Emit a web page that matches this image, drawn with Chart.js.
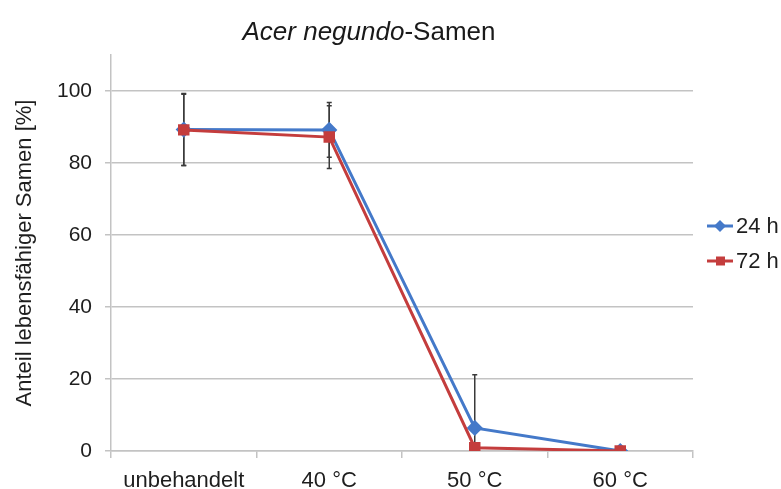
<!DOCTYPE html>
<html>
<head>
<meta charset="utf-8">
<script src="https://cdn.jsdelivr.net/npm/chart.js@4.4.0/dist/chart.umd.min.js"></script>
<style>
  html, body { margin: 0; padding: 0; background: #fff; }
  #wrap { position: relative; width: 781px; height: 489px; }
  #title {
    position: absolute; left: 0; top: 16px; width: 738px;
    text-align: center; font: 26px "Liberation Sans", Arial, sans-serif; color: #1a1a1a;
  }
</style>
</head>
<body>
<div id="wrap">
  <canvas id="chart" width="781" height="489"></canvas>
  <div id="title"><i>Acer negundo</i>-Samen</div>
</div>
<script>
// Data
const categories = ['unbehandelt', '40 °C', '50 °C', '60 °C'];
const seriesNames = ['24 h', '72 h'];
const values24h = [89.3, 89.2, 6.4, 0];
const values72h = [89.2, 87.2, 0.9, 0];
const err24h = [10.0, 7.6, 14.8, 0];
const err72h = [9.9, 8.7, 0.6, 0];
const yMax = 110;
const yStep = 20;

const blue = '#4479c9';
const red = '#c43d3d';
const gridColor = '#c3c3c3';
const textColor = '#1e1e1e';
const fontFamily = '"Liberation Sans", Arial, sans-serif';

// error bars drawn behind the lines
const errorBars = {
  id: 'errorBars',
  beforeDatasetsDraw(chart) {
    const { ctx, chartArea, scales: { x, y } } = chart;
    ctx.save();
    ctx.beginPath();
    ctx.rect(chartArea.left, chartArea.top, chartArea.width, chartArea.height);
    ctx.clip();
    ctx.strokeStyle = '#3a3a3a';
    ctx.lineWidth = 1.5;
    [[values24h, err24h], [values72h, err72h]].forEach(([vals, errs]) => {
      vals.forEach((v, i) => {
        if (!errs[i]) return;
        const px = x.getPixelForValue(i);
        const top = y.getPixelForValue(v + errs[i]);
        const bot = y.getPixelForValue(Math.max(0, v - errs[i]));
        ctx.beginPath();
        ctx.moveTo(px, top); ctx.lineTo(px, bot);
        ctx.moveTo(px - 2.5, top); ctx.lineTo(px + 2.5, top);
        ctx.moveTo(px - 2.5, bot); ctx.lineTo(px + 2.5, bot);
        ctx.stroke();
      });
    });
    ctx.restore();
  }
};

// legend on the right, line with marker like the original
const sideLegend = {
  id: 'sideLegend',
  afterDraw(chart) {
    const ctx = chart.ctx;
    const items = [
      { text: seriesNames[0], color: blue, style: 'diamond', y: 226 },
      { text: seriesNames[1], color: red, style: 'square', y: 261 }
    ];
    ctx.save();
    items.forEach(it => {
      ctx.strokeStyle = it.color;
      ctx.fillStyle = it.color;
      ctx.lineWidth = 3;
      ctx.beginPath();
      ctx.moveTo(707, it.y); ctx.lineTo(733, it.y);
      ctx.stroke();
      ctx.beginPath();
      if (it.style === 'diamond') {
        ctx.moveTo(720, it.y - 6); ctx.lineTo(726, it.y);
        ctx.lineTo(720, it.y + 6); ctx.lineTo(714, it.y);
        ctx.closePath();
      } else {
        ctx.rect(716, it.y - 4.5, 9, 9);
      }
      ctx.fill();
      ctx.fillStyle = textColor;
      ctx.font = '22px ' + fontFamily;
      ctx.textBaseline = 'middle';
      ctx.textAlign = 'left';
      ctx.fillText(it.text, 736, it.y + 1);
    });
    ctx.restore();
  }
};

new Chart(document.getElementById('chart'), {
  type: 'line',
  data: {
    labels: categories,
    datasets: [
      {
        label: seriesNames[0], data: values24h,
        borderColor: blue, backgroundColor: blue,
        borderWidth: 3, pointStyle: 'rectRot', pointRadius: 6,
        tension: 0, order: 1
      },
      {
        label: seriesNames[1], data: values72h,
        borderColor: red, backgroundColor: red,
        borderWidth: 3, pointStyle: 'rect', pointRadius: 6,
        tension: 0, order: 0
      }
    ]
  },
  options: {
    responsive: false,
    animation: false,
    layout: { padding: { left: 0, right: 88, top: 55, bottom: 0 } },
    plugins: {
      legend: { display: false },
      title: { display: false },
      tooltip: { enabled: false }
    },
    scales: {
      x: {
        offset: true,
        grid: { offset: true, drawOnChartArea: false, drawTicks: true, tickLength: 7, color: gridColor, lineWidth: 1.5 },
        border: { color: gridColor, width: 1.5 },
        ticks: { color: textColor, font: { family: fontFamily, size: 22 }, padding: 10, maxRotation: 0 },
        afterFit(scale) { scale.height = 38; }
      },
      y: {
        min: 0, max: yMax,
        ticks: { stepSize: yStep, color: textColor, font: { family: fontFamily, size: 21 }, padding: 13 },
        afterBuildTicks(scale) { scale.ticks = scale.ticks.filter(t => t.value <= 100); },
        grid: { color: gridColor, lineWidth: 1.5, tickLength: 6 },
        border: { color: gridColor, width: 1.5 },
        title: {
          display: true, text: 'Anteil lebensfähiger Samen [%]',
          color: textColor, font: { family: fontFamily, size: 22 },
          padding: { top: 12, bottom: 0 }
        },
        afterFit(scale) { scale.width = 111; }
      }
    }
  },
  plugins: [errorBars, sideLegend]
});
</script>
</body>
</html>
